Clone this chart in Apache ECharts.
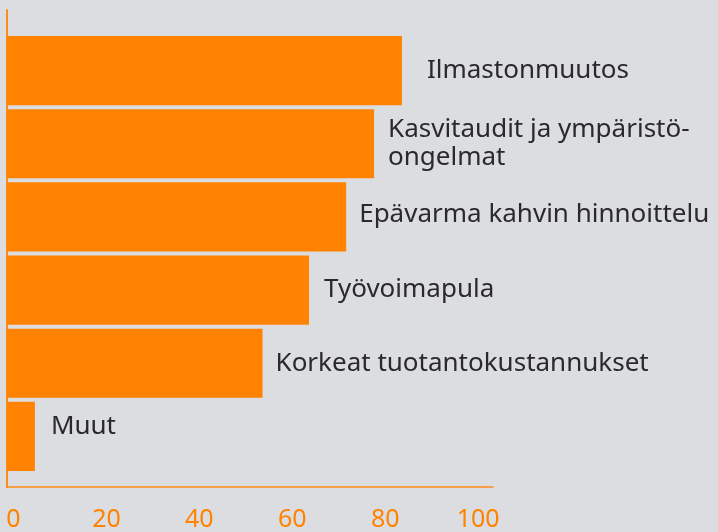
<!DOCTYPE html>
<html>
<head>
<meta charset="utf-8">
<script src="https://cdn.jsdelivr.net/npm/echarts@6/dist/echarts.min.js"></script>
<style>
  html, body { margin: 0; padding: 0; background: #dcdde0; }
  #chart { width: 718px; height: 532px; }
</style>
</head>
<body>
<div id="chart"></div>
<script>
// kategoriat ylhäältä alas
const categories = [
  "Ilmastonmuutos",
  "Kasvitaudit ja ympäristö-\nongelmat",
  "Epävarma kahvin hinnoittelu",
  "Työvoimapula",
  "Korkeat tuotantokustannukset",
  "Muut"
];
const values = [85, 79, 73, 65, 55, 6];
const tickLabels = [0, 20, 40, 60, 80, 100];
// tekstin siirrot palkin päästä (x, y)
const labelGaps = [25, 14, 13, 15, 13, 16];
const labelLift = [0, 0, -2, 0, 0, -10];

const orange = "#ff8200";
const axisMax = 104.6;

const myChart = echarts.init(document.getElementById("chart"));
const option = {
  backgroundColor: "#dcdde0",
  animation: false,
  grid: [
    { left: 7, right: 225, top: 10, bottom: 43 },
    { left: 7, right: 225, top: 34, bottom: 59 }
  ],
  xAxis: [
    {
      gridIndex: 0,
      type: "value",
      min: 0,
      max: axisMax,
      interval: 20,
      axisLine: { show: true, lineStyle: { color: "#ff8c1a", width: 1.5 } },
      axisTick: { show: false },
      splitLine: { show: false },
      axisLabel: {
        color: orange,
        fontFamily: "Noto Sans",
        fontSize: 25,
        margin: 20,
        padding: [0, 0, 0, 13],
        formatter: (v) => (tickLabels.indexOf(v) >= 0 ? String(v) : "")
      }
    },
    {
      gridIndex: 1,
      type: "value",
      min: 0,
      max: axisMax,
      show: false
    }
  ],
  yAxis: [
    {
      gridIndex: 0,
      type: "category",
      data: [""],
      axisLine: { show: true, lineStyle: { color: "#ff8c1a", width: 2 } },
      axisTick: { show: false },
      axisLabel: { show: false }
    },
    {
      gridIndex: 1,
      type: "category",
      inverse: true,
      data: categories,
      show: false
    }
  ],
  series: [
    {
      type: "bar",
      xAxisIndex: 1,
      yAxisIndex: 1,
      z: 5,
      barCategoryGap: "5.5%",
      itemStyle: { color: orange },
      label: {
        show: true,
        position: "right",
        color: "#2a2a2a",
        fontFamily: "Noto Sans",
        fontSize: 26,
        lineHeight: 28,
        formatter: (p) => categories[p.dataIndex]
      },
      data: values.map((v, i) => ({
        value: v,
        label: { distance: labelGaps[i], offset: [0, labelLift[i]] }
      }))
    }
  ]
};
myChart.setOption(option);
</script>
</body>
</html>
